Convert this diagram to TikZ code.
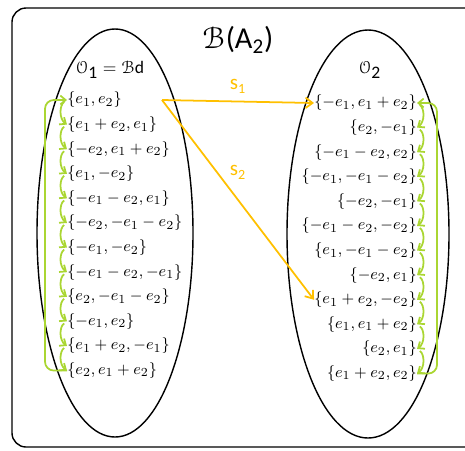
\documentclass[tikz,border=0pt]{standalone}
\usepackage{fontspec}
\setsansfont{Carlito}
\usepackage[mathscr]{euscript}
\usetikzlibrary{arrows.meta, positioning, calc}

\begin{document}
\begin{tikzpicture}[
    x = 0.02cm, y = -0.02cm,
    node distance = 0.492cm,
    elem/.style = {
        inner sep=0pt, text height=7pt, text depth=2.5pt,
        font=\fontsize{9.5}{11}\selectfont
    },
    orbit/.style = {line width=0.8pt, color=black},
    cyc/.style = {
        -{Straight Barb[length=3pt,width=5pt]},
        line width=1pt, color={rgb,255:red,170;green,214;blue,50}
    },
    refl/.style = {
        -{Straight Barb[length=4pt,width=6pt]},
        line width=1pt, color={rgb,255:red,255;green,192;blue,0}
    },
    rlbl/.style = {font=\large\sffamily, text={rgb,255:red,255;green,192;blue,0}}
]
\useasboundingbox (0,0) rectangle (465,450);
\clip (0,0) rectangle (465,450);

%% Frame, title and the two orbits
\draw[line width=0.8pt, rounded corners=8pt] (12,8) rectangle (500,447);
\node (title) at (238,40) {\LARGE $\mathscr{B}$\textsf{(A\textsubscript{2})}};
\draw[orbit] (115,233) ellipse [x radius=78, y radius=204];
\draw[orbit] (368,234) ellipse [x radius=81, y radius=204];
\node (olbl1) at (110,70) {$\mathscr{O}_{\textsf{1}} = \mathscr{B}$\textsf{d}};
\node (olbl2) at (370,70) {$\mathscr{O}_{\textsf{2}}$};

%% Left orbit
\node[elem, anchor=west] (l1) at (67,100) {$\{e_1,e_2\}$};
\node[elem, below=of l1.west, anchor=west]  (l2)  {$\{e_1+e_2,e_1\}$};
\node[elem, below=of l2.west, anchor=west]  (l3)  {$\{-e_2,e_1+e_2\}$};
\node[elem, below=of l3.west, anchor=west]  (l4)  {$\{e_1,-e_2\}$};
\node[elem, below=of l4.west, anchor=west]  (l5)  {$\{-e_1-e_2,e_1\}$};
\node[elem, below=of l5.west, anchor=west]  (l6)  {$\{-e_2,-e_1-e_2\}$};
\node[elem, below=of l6.west, anchor=west]  (l7)  {$\{-e_1,-e_2\}$};
\node[elem, below=of l7.west, anchor=west]  (l8)  {$\{-e_1-e_2,-e_1\}$};
\node[elem, below=of l8.west, anchor=west]  (l9)  {$\{e_2,-e_1-e_2\}$};
\node[elem, below=of l9.west, anchor=west]  (l10) {$\{-e_1,e_2\}$};
\node[elem, below=of l10.west, anchor=west] (l11) {$\{e_1+e_2,-e_1\}$};
\node[elem, below=of l11.west, anchor=west] (l12) {$\{e_2,e_1+e_2\}$};

%% Right orbit
\node[elem, anchor=east] (r1) at (417,103) {$\{-e_1,e_1+e_2\}$};
\node[elem, below=of r1.east, anchor=east]  (r2)  {$\{e_2,-e_1\}$};
\node[elem, below=of r2.east, anchor=east]  (r3)  {$\{-e_1-e_2,e_2\}$};
\node[elem, below=of r3.east, anchor=east]  (r4)  {$\{-e_1,-e_1-e_2\}$};
\node[elem, below=of r4.east, anchor=east]  (r5)  {$\{-e_2,-e_1\}$};
\node[elem, below=of r5.east, anchor=east]  (r6)  {$\{-e_1-e_2,-e_2\}$};
\node[elem, below=of r6.east, anchor=east]  (r7)  {$\{e_1,-e_1-e_2\}$};
\node[elem, below=of r7.east, anchor=east]  (r8)  {$\{-e_2,e_1\}$};
\node[elem, below=of r8.east, anchor=east]  (r9)  {$\{e_1+e_2,-e_2\}$};
\node[elem, below=of r9.east, anchor=east]  (r10) {$\{e_1,e_1+e_2\}$};
\node[elem, below=of r10.east, anchor=east] (r11) {$\{e_2,e_1\}$};
\node[elem, below=of r11.east, anchor=east] (r12) {$\{e_1+e_2,e_2\}$};

%% Cycles inside each orbit
\foreach \i [count=\j from 2] in {1,...,11} {
    \draw[cyc, shorten <=2pt] (l\i.west) to[bend right=55] (l\j.west);
    \draw[cyc, shorten <=2pt] (r\i.east) to[bend left=55] (r\j.east);
}
\draw[cyc, rounded corners=5pt] (l12.west) -- ++(-22,0) |- (l1.west);
\draw[cyc, rounded corners=5pt] (r12.east) -- ++(20,0) |- (r1.east);

%% Reflections
\coordinate (src) at (162,100);
\draw[refl] (src) -- (r1.west)
    node[rlbl, midway, above=1pt] {s\textsubscript{1}};
\draw[refl] (src) -- (r9.west)
    node[rlbl, midway, above=8pt] {s\textsubscript{2}};

\end{tikzpicture}
\end{document}
